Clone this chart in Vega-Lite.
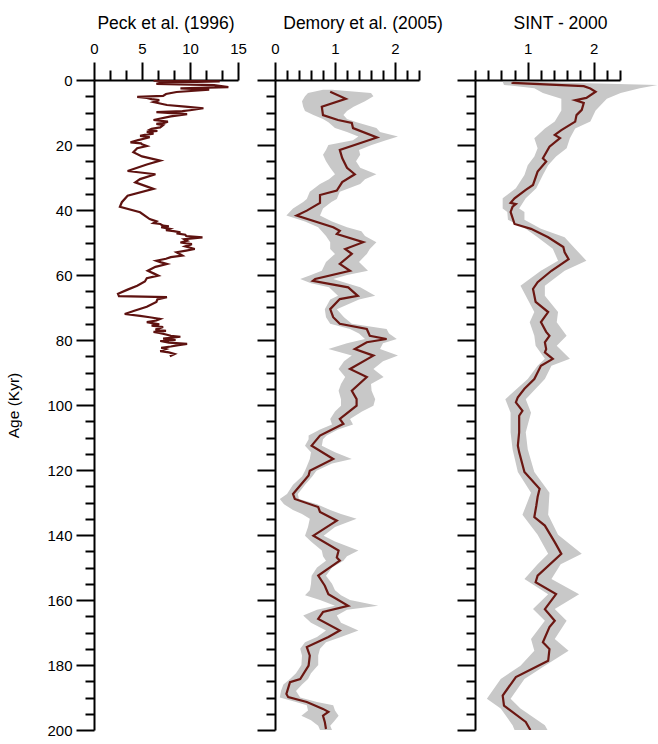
{
  "$schema": "https://vega.github.io/schema/vega-lite/v6.json",
  "padding": {"left": 6, "top": 14, "right": 5, "bottom": 5},
  "background": "white",
  "config": {
    "view": {"stroke": null},
    "font": "Liberation Sans",
    "axis": {"domainColor": "black", "domainWidth": 2, "tickColor": "black", "tickWidth": 2, "labelColor": "black", "labelFontSize": 15, "titleColor": "black", "grid": false, "labelFont": "Liberation Sans", "titleFont": "Liberation Sans", "labelFlush": false, "labelOverlap": false},
    "title": {"fontSize": 17.5, "fontWeight": "normal", "font": "Liberation Sans", "color": "black", "frame": "group", "anchor": "middle", "offset": 9}
  },
  "datasets": {
    "peck": [
      {"age":0.2,"v":6.2},{"age":0.4,"v":13.1},{"age":0.8,"v":7},{"age":1.2,"v":6.5},{"age":1.6,"v":12.5},{"age":2.2,"v":14.0},{"age":2.6,"v":9},{"age":3.0,"v":12.0},{"age":3.7,"v":8.6},{"age":4.3,"v":7.5},{"age":4.9,"v":7.2},{"age":5.2,"v":4.5},{"age":5.5,"v":5.5},{"age":5.9,"v":6.0},{"age":6.2,"v":6.8},{"age":6.8,"v":6.2},{"age":7.3,"v":7.0},{"age":7.7,"v":7.6},{"age":8.2,"v":9.5},{"age":8.7,"v":11.4},{"age":9.3,"v":10},{"age":9.6,"v":9.2},{"age":9.9,"v":6.5},{"age":10.5,"v":9.7},{"age":11.2,"v":8},{"age":12.3,"v":6.2},{"age":12.8,"v":7.7},{"age":13.2,"v":7.3},{"age":13.5,"v":6.5},{"age":13.9,"v":7.2},{"age":14.6,"v":6.9},{"age":15.0,"v":6.0},{"age":15.3,"v":5.8},{"age":15.7,"v":6.6},{"age":16.0,"v":5.5},{"age":16.5,"v":6.2},{"age":16.9,"v":5.3},{"age":17.2,"v":4.8},{"age":17.6,"v":5.8},{"age":18,"v":5.3},{"age":18.5,"v":4.6},{"age":19.2,"v":3.8},{"age":19.5,"v":4.9},{"age":19.8,"v":5.0},{"age":20.3,"v":5.5},{"age":21,"v":4.5},{"age":22.2,"v":4.1},{"age":23.5,"v":5.0},{"age":24.8,"v":6.9},{"age":26,"v":5.5},{"age":28,"v":3.5},{"age":29,"v":6.4},{"age":30.5,"v":4.8},{"age":31.5,"v":4.3},{"age":33.5,"v":6.2},{"age":35.6,"v":3.5},{"age":37.6,"v":2.9},{"age":39,"v":2.7},{"age":40.7,"v":4.8},{"age":42.8,"v":5.8},{"age":43.5,"v":6.5},{"age":44.0,"v":6.2},{"age":44.3,"v":6.9},{"age":44.8,"v":7.2},{"age":45,"v":7.8},{"age":45.3,"v":7.0},{"age":45.8,"v":7.9},{"age":46.2,"v":7.5},{"age":46.5,"v":8.3},{"age":46.9,"v":9.0},{"age":47.2,"v":8.6},{"age":47.6,"v":9.5},{"age":48.0,"v":9.6},{"age":48.4,"v":11.3},{"age":48.8,"v":10.0},{"age":49,"v":9.4},{"age":49.5,"v":9.7},{"age":50.0,"v":9.0},{"age":50.5,"v":10.2},{"age":51.2,"v":9.5},{"age":52,"v":10.5},{"age":52.5,"v":9.6},{"age":53,"v":8.6},{"age":54,"v":9.2},{"age":54.5,"v":8.0},{"age":55,"v":7.5},{"age":55.6,"v":6.5},{"age":56.1,"v":7.0},{"age":56.6,"v":7.6},{"age":57.5,"v":6.4},{"age":58.7,"v":5.6},{"age":59.5,"v":6.2},{"age":60.2,"v":6.7},{"age":61,"v":5.5},{"age":62,"v":5.3},{"age":63.3,"v":4.5},{"age":64.5,"v":3.5},{"age":65.8,"v":2.5},{"age":66.5,"v":2.6},{"age":66.8,"v":7.6},{"age":67.5,"v":6.6},{"age":68.3,"v":6.5},{"age":69.8,"v":5.5},{"age":71,"v":4.2},{"age":72,"v":3.2},{"age":72.6,"v":4.8},{"age":73.0,"v":5.8},{"age":73.5,"v":6.9},{"age":74.0,"v":6.5},{"age":74.5,"v":5.5},{"age":75.2,"v":6.8},{"age":75.6,"v":6.0},{"age":76,"v":7.2},{"age":76.8,"v":6.4},{"age":77.2,"v":7.5},{"age":77.5,"v":6.2},{"age":77.8,"v":6.8},{"age":78.3,"v":7.5},{"age":78.7,"v":8.0},{"age":79,"v":9.0},{"age":79.6,"v":7.2},{"age":80.0,"v":8.5},{"age":80.3,"v":6.9},{"age":80.8,"v":7.8},{"age":81.2,"v":9.7},{"age":81.6,"v":8.8},{"age":82,"v":8.0},{"age":82.4,"v":7.0},{"age":82.8,"v":7.5},{"age":83.4,"v":6.9},{"age":83.8,"v":7.8},{"age":84.3,"v":8.4},{"age":85,"v":7.9}
    ],
    "demoryLine": [
      {"age":3.6,"v":0.92},{"age":5.8,"v":1.18},{"age":8.2,"v":0.78},{"age":10.8,"v":0.8},{"age":12.3,"v":1.05},{"age":13.2,"v":1.28},{"age":14.8,"v":1.3},{"age":17.7,"v":1.7},{"age":21.5,"v":1.08},{"age":24.0,"v":1.12},{"age":27.0,"v":1.2},{"age":29.0,"v":1.33},{"age":31.4,"v":1.12},{"age":34.0,"v":1.03},{"age":35.4,"v":0.75},{"age":37.8,"v":0.75},{"age":40.2,"v":0.53},{"age":41.7,"v":0.36},{"age":45.3,"v":0.97},{"age":46.4,"v":1.08},{"age":47.4,"v":1.03},{"age":49.9,"v":1.47},{"age":52.0,"v":1.17},{"age":53.5,"v":1.28},{"age":56.6,"v":1.08},{"age":58.7,"v":1.25},{"age":61.2,"v":0.67},{"age":61.8,"v":0.63},{"age":63.8,"v":1.22},{"age":66.4,"v":1.38},{"age":67.4,"v":1.08},{"age":70.5,"v":0.92},{"age":73.0,"v":0.97},{"age":75.0,"v":1.08},{"age":76.6,"v":1.53},{"age":78.7,"v":1.58},{"age":79.7,"v":1.86},{"age":80.7,"v":1.53},{"age":82.8,"v":1.33},{"age":84.8,"v":1.64},{"age":88.9,"v":1.25},{"age":91.4,"v":1.53},{"age":95.6,"v":1.28},{"age":98.2,"v":1.36},{"age":100.2,"v":1.36},{"age":104.3,"v":1.08},{"age":105.8,"v":1.14},{"age":109.4,"v":0.75},{"age":112.5,"v":0.61},{"age":116.6,"v":0.97},{"age":120.2,"v":0.58},{"age":121.7,"v":0.56},{"age":127.4,"v":0.3},{"age":128.9,"v":0.33},{"age":131.4,"v":0.72},{"age":132.9,"v":0.75},{"age":135.6,"v":1.03},{"age":140.2,"v":0.64},{"age":144.8,"v":1.06},{"age":146.9,"v":1.03},{"age":147.9,"v":1.08},{"age":152.5,"v":0.72},{"age":155.6,"v":0.83},{"age":158.2,"v":0.89},{"age":161.8,"v":1.22},{"age":163.7,"v":0.8},{"age":165.8,"v":0.72},{"age":169.4,"v":1.08},{"age":171.4,"v":0.89},{"age":174.5,"v":0.53},{"age":177.1,"v":0.58},{"age":180.2,"v":0.56},{"age":184.3,"v":0.42},{"age":185.3,"v":0.25},{"age":188.9,"v":0.19},{"age":189.9,"v":0.22},{"age":191.4,"v":0.53},{"age":193.5,"v":0.8},{"age":194.4,"v":0.89},{"age":195.6,"v":0.8},{"age":197.5,"v":0.83},{"age":199.7,"v":0.85}
    ],
    "demoryBand": [
      {"age":3.0,"lo":0.8,"hi":0.95},{"age":4.0,"lo":0.55,"hi":1.6},{"age":5.0,"lo":0.5,"hi":1.64},{"age":6.5,"lo":0.45,"hi":1.5},{"age":8.2,"lo":0.47,"hi":1.31},{"age":9.5,"lo":0.5,"hi":1.2},{"age":10.8,"lo":0.64,"hi":1.14},{"age":12.0,"lo":0.8,"hi":1.2},{"age":13.0,"lo":0.89,"hi":1.36},{"age":14.8,"lo":1.0,"hi":1.69},{"age":16.0,"lo":1.2,"hi":1.75},{"age":17.4,"lo":1.39,"hi":2.05},{"age":18.5,"lo":1.3,"hi":1.85},{"age":20.0,"lo":0.89,"hi":1.61},{"age":21.5,"lo":0.85,"hi":1.4},{"age":23.0,"lo":0.8,"hi":1.42},{"age":25.0,"lo":0.85,"hi":1.35},{"age":27.0,"lo":0.92,"hi":1.42},{"age":29.0,"lo":1.0,"hi":1.69},{"age":30.5,"lo":0.9,"hi":1.5},{"age":32.0,"lo":0.75,"hi":1.42},{"age":34.4,"lo":0.58,"hi":1.08},{"age":36.6,"lo":0.53,"hi":1.03},{"age":37.5,"lo":0.47,"hi":0.94},{"age":39.5,"lo":0.3,"hi":0.8},{"age":41.7,"lo":0.19,"hi":0.75},{"age":43.5,"lo":0.5,"hi":0.95},{"age":45.3,"lo":0.72,"hi":1.2},{"age":46.5,"lo":0.78,"hi":1.44},{"age":48.0,"lo":0.85,"hi":1.5},{"age":49.9,"lo":0.92,"hi":1.69},{"age":52.0,"lo":0.92,"hi":1.58},{"age":53.5,"lo":1.0,"hi":1.53},{"age":56.0,"lo":0.85,"hi":1.4},{"age":58.7,"lo":0.78,"hi":1.55},{"age":60.0,"lo":0.6,"hi":1.2},{"age":61.2,"lo":0.42,"hi":0.97},{"age":62.5,"lo":0.6,"hi":1.2},{"age":63.8,"lo":0.9,"hi":1.42},{"age":66.4,"lo":1.05,"hi":1.67},{"age":67.5,"lo":0.92,"hi":1.4},{"age":70.5,"lo":0.83,"hi":1.03},{"age":73.0,"lo":0.85,"hi":1.15},{"age":75.0,"lo":0.92,"hi":1.28},{"age":76.6,"lo":1.25,"hi":1.86},{"age":78.0,"lo":1.4,"hi":1.9},{"age":79.7,"lo":1.5,"hi":2.03},{"age":81.0,"lo":1.2,"hi":1.8},{"age":82.8,"lo":0.89,"hi":1.75},{"age":84.8,"lo":1.28,"hi":2.05},{"age":86.5,"lo":1.15,"hi":1.8},{"age":88.9,"lo":1.06,"hi":1.64},{"age":91.4,"lo":1.17,"hi":1.81},{"age":93.5,"lo":1.1,"hi":1.6},{"age":95.6,"lo":1.06,"hi":1.61},{"age":98.2,"lo":1.1,"hi":1.67},{"age":100.2,"lo":1.1,"hi":1.64},{"age":102.0,"lo":1.0,"hi":1.45},{"age":104.3,"lo":0.92,"hi":1.25},{"age":106.0,"lo":0.95,"hi":1.3},{"age":107.5,"lo":0.75,"hi":1.05},{"age":109.4,"lo":0.56,"hi":0.86},{"age":110.5,"lo":0.56,"hi":0.8},{"age":112.5,"lo":0.5,"hi":0.78},{"age":114.5,"lo":0.6,"hi":1.0},{"age":116.6,"lo":0.58,"hi":1.28},{"age":118.0,"lo":0.55,"hi":0.95},{"age":120.2,"lo":0.5,"hi":0.69},{"age":122.0,"lo":0.45,"hi":0.62},{"age":124.5,"lo":0.3,"hi":0.5},{"age":127.4,"lo":0.2,"hi":0.38},{"age":128.9,"lo":0.08,"hi":0.4},{"age":130.5,"lo":0.15,"hi":0.7},{"age":132.3,"lo":0.3,"hi":0.92},{"age":133.5,"lo":0.45,"hi":1.1},{"age":135.0,"lo":0.58,"hi":1.36},{"age":137.5,"lo":0.55,"hi":1.0},{"age":140.2,"lo":0.5,"hi":0.81},{"age":142.0,"lo":0.6,"hi":1.0},{"age":144.8,"lo":0.78,"hi":1.39},{"age":146.5,"lo":0.8,"hi":1.2},{"age":147.9,"lo":0.85,"hi":1.14},{"age":150.0,"lo":0.7,"hi":0.95},{"age":152.5,"lo":0.61,"hi":0.85},{"age":155.0,"lo":0.6,"hi":0.95},{"age":157.0,"lo":0.58,"hi":1.0},{"age":158.5,"lo":0.5,"hi":1.1},{"age":160.0,"lo":0.75,"hi":1.25},{"age":161.8,"lo":1.0,"hi":1.72},{"age":163.0,"lo":0.7,"hi":1.2},{"age":164.8,"lo":0.47,"hi":1.03},{"age":167.0,"lo":0.6,"hi":1.1},{"age":169.4,"lo":0.85,"hi":1.39},{"age":171.4,"lo":0.7,"hi":1.1},{"age":173.0,"lo":0.5,"hi":0.85},{"age":175.0,"lo":0.42,"hi":0.75},{"age":177.1,"lo":0.45,"hi":0.72},{"age":180.0,"lo":0.44,"hi":0.72},{"age":182.5,"lo":0.35,"hi":0.6},{"age":184.3,"lo":0.25,"hi":0.55},{"age":186.0,"lo":0.14,"hi":0.45},{"age":188.0,"lo":0.1,"hi":0.35},{"age":190.0,"lo":0.08,"hi":0.42},{"age":191.4,"lo":0.35,"hi":0.7},{"age":192.4,"lo":0.53,"hi":0.97},{"age":194.0,"lo":0.55,"hi":1.0},{"age":195.6,"lo":0.44,"hi":1.06},{"age":197.0,"lo":0.6,"hi":1.0},{"age":198.7,"lo":0.72,"hi":0.92},{"age":200.0,"lo":0.75,"hi":0.95}
    ],
    "sintLine": [
      {"age":0.7,"v":0.77},{"age":0.9,"v":0.77},{"age":1.9,"v":1.85},{"age":2.6,"v":1.95},{"age":3.6,"v":2.03},{"age":5.5,"v":1.89},{"age":6.2,"v":1.72},{"age":7.1,"v":1.85},{"age":9.2,"v":1.82},{"age":10.8,"v":1.74},{"age":12.8,"v":1.72},{"age":15.4,"v":1.51},{"age":16.9,"v":1.41},{"age":17.9,"v":1.49},{"age":20.5,"v":1.33},{"age":24.1,"v":1.23},{"age":25.1,"v":1.28},{"age":28.2,"v":1.15},{"age":32.3,"v":1.08},{"age":33.8,"v":0.97},{"age":36.4,"v":0.8},{"age":37.8,"v":0.74},{"age":38.2,"v":0.82},{"age":39.0,"v":0.77},{"age":40.6,"v":0.74},{"age":44.3,"v":0.8},{"age":45.8,"v":1.05},{"age":48.4,"v":1.31},{"age":51.4,"v":1.54},{"age":53.0,"v":1.56},{"age":55.1,"v":1.62},{"age":58.7,"v":1.36},{"age":62.2,"v":1.15},{"age":64.3,"v":1.08},{"age":68.3,"v":1.12},{"age":71.4,"v":1.31},{"age":74.5,"v":1.2},{"age":77.5,"v":1.28},{"age":78.7,"v":1.33},{"age":80.7,"v":1.26},{"age":82.8,"v":1.28},{"age":83.8,"v":1.26},{"age":85.8,"v":1.38},{"age":87.9,"v":1.2},{"age":92.0,"v":1.1},{"age":95.0,"v":0.95},{"age":97.6,"v":0.85},{"age":99.2,"v":0.82},{"age":101.8,"v":0.92},{"age":103.3,"v":0.87},{"age":108.4,"v":0.87},{"age":112.5,"v":0.85},{"age":114.5,"v":0.87},{"age":120.6,"v":0.95},{"age":125.8,"v":1.18},{"age":128.3,"v":1.15},{"age":131.0,"v":1.13},{"age":134.5,"v":1.1},{"age":137.1,"v":1.26},{"age":142.2,"v":1.41},{"age":145.8,"v":1.51},{"age":152.5,"v":1.15},{"age":154.5,"v":1.12},{"age":158.2,"v":1.43},{"age":162.8,"v":1.26},{"age":166.4,"v":1.41},{"age":168.3,"v":1.33},{"age":173.0,"v":1.23},{"age":175.1,"v":1.33},{"age":178.7,"v":1.31},{"age":183.7,"v":0.82},{"age":189.4,"v":0.62},{"age":192.5,"v":0.64},{"age":197.5,"v":0.97},{"age":200.0,"v":1.04}
    ],
    "sintBand": [
      {"age":0.5,"lo":0.62,"hi":1.0},{"age":1.5,"lo":0.64,"hi":2.97},{"age":2.5,"lo":1.1,"hi":2.7},{"age":4.0,"lo":1.23,"hi":2.41},{"age":5.8,"lo":1.51,"hi":2.2},{"age":9.4,"lo":1.51,"hi":2.03},{"age":12.8,"lo":1.41,"hi":1.95},{"age":14.9,"lo":1.26,"hi":1.72},{"age":17.9,"lo":1.1,"hi":1.64},{"age":21.0,"lo":1.15,"hi":1.59},{"age":23.5,"lo":1.1,"hi":1.43},{"age":26.2,"lo":1.0,"hi":1.31},{"age":29.2,"lo":0.95,"hi":1.23},{"age":33.3,"lo":0.82,"hi":1.13},{"age":36.4,"lo":0.62,"hi":0.97},{"age":39.5,"lo":0.62,"hi":0.87},{"age":40.6,"lo":0.69,"hi":0.95},{"age":43.0,"lo":0.7,"hi":0.95},{"age":45.8,"lo":0.97,"hi":1.2},{"age":48.4,"lo":1.15,"hi":1.56},{"age":51.9,"lo":1.38,"hi":1.72},{"age":55.6,"lo":1.46,"hi":1.89},{"age":58.7,"lo":1.2,"hi":1.56},{"age":63.3,"lo":0.89,"hi":1.26},{"age":66.4,"lo":0.97,"hi":1.26},{"age":71.4,"lo":1.1,"hi":1.46},{"age":74.5,"lo":1.03,"hi":1.44},{"age":78.7,"lo":1.1,"hi":1.59},{"age":81.8,"lo":1.12,"hi":1.44},{"age":85.8,"lo":1.26,"hi":1.64},{"age":87.9,"lo":1.15,"hi":1.36},{"age":92.0,"lo":1.0,"hi":1.26},{"age":98.2,"lo":0.66,"hi":0.97},{"age":102.4,"lo":0.74,"hi":1.05},{"age":108.4,"lo":0.74,"hi":0.97},{"age":113.6,"lo":0.77,"hi":1.0},{"age":120.6,"lo":0.85,"hi":1.1},{"age":127.0,"lo":1.05,"hi":1.33},{"age":133.8,"lo":0.92,"hi":1.31},{"age":139.9,"lo":1.15,"hi":1.46},{"age":145.8,"lo":1.31,"hi":1.82},{"age":149.0,"lo":1.15,"hi":1.5},{"age":153.5,"lo":0.95,"hi":1.36},{"age":158.2,"lo":1.31,"hi":1.78},{"age":162.8,"lo":1.08,"hi":1.41},{"age":166.4,"lo":1.26,"hi":1.59},{"age":172.0,"lo":1.05,"hi":1.41},{"age":175.6,"lo":1.1,"hi":1.62},{"age":180.2,"lo":0.89,"hi":1.26},{"age":184.3,"lo":0.59,"hi":0.95},{"age":190.4,"lo":0.38,"hi":0.74},{"age":193.4,"lo":0.59,"hi":0.89},{"age":198.5,"lo":0.77,"hi":1.26},{"age":200.0,"lo":0.8,"hi":1.3}
    ]
  },
  "spacing": 13,
  "hconcat": [
    {
      "spacing": 9,
      "hconcat": [
        {
          "width": 144, "height": 650,
          "title": {"text": "Peck et al. (1996)"},
          "data": {"name": "peck"},
          "mark": {"type": "line", "color": "#5e1210", "strokeWidth": 2.2, "clip": true},
          "encoding": {
            "x": {"field": "v", "type": "quantitative", "scale": {"domain": [0, 15], "nice": false, "zero": false},
              "axis": {"orient": "top", "title": null, "values": [0, 1.6667, 3.3333, 5, 6.6667, 8.3333, 10, 11.6667, 13.3333, 15], "tickSize": {"condition": {"test": "abs(datum.value % 5) < 0.001", "value": 18}, "value": 10}, "labelExpr": "abs(datum.value % 5) < 0.001 ? format(datum.value, '.0f') : ''", "labelPadding": 6}},
            "y": {"field": "age", "type": "quantitative", "scale": {"domain": [0, 200], "reverse": true, "nice": false, "zero": false},
              "axis": {"orient": "left", "title": "Age (Kyr)", "titleFontSize": 15.5, "titleFontWeight": "normal", "titlePadding": 25, "values": [0,5,10,15,20,25,30,35,40,45,50,55,60,65,70,75,80,85,90,95,100,105,110,115,120,125,130,135,140,145,150,155,160,165,170,175,180,185,190,195,200], "tickSize": {"condition": {"test": "datum.value % 20 === 0", "value": 18}, "value": 9}, "labelExpr": "datum.value % 20 === 0 ? datum.label : ''", "labelPadding": 4}},
            "order": {"field": "age"}
          }
        },
        {
          "width": 144, "height": 650,
          "title": {"text": "Demory et al. (2005)", "dx": 16},
          "layer": [
            {
              "data": {"name": "demoryBand"},
              "mark": {"type": "area", "orient": "horizontal", "color": "#c8c8c8", "opacity": 1},
              "encoding": {
                "x": {"field": "lo", "type": "quantitative", "scale": {"domain": [0, 2.4], "nice": false, "zero": false},
                  "axis": {"orient": "top", "title": null, "values": [0,0.2,0.4,0.6,0.8,1,1.2,1.4,1.6,1.8,2,2.2,2.4], "tickSize": {"condition": {"test": "abs(datum.value - round(datum.value)) < 0.001", "value": 18}, "value": 10}, "labelExpr": "abs(datum.value - round(datum.value)) < 0.001 ? format(datum.value, '.0f') : ''", "labelPadding": 6}},
                "x2": {"field": "hi"},
                "y": {"field": "age", "type": "quantitative", "scale": {"domain": [0, 200], "reverse": true, "nice": false, "zero": false},
                  "axis": {"orient": "left", "title": null, "labels": false, "values": [0,5,10,15,20,25,30,35,40,45,50,55,60,65,70,75,80,85,90,95,100,105,110,115,120,125,130,135,140,145,150,155,160,165,170,175,180,185,190,195,200], "tickSize": {"condition": {"test": "datum.value % 20 === 0", "value": 18}, "value": 9}}}
              }
            },
            {
              "data": {"name": "demoryLine"},
              "mark": {"type": "line", "color": "#6b1712", "strokeWidth": 2.2, "clip": true},
              "encoding": {
                "x": {"field": "v", "type": "quantitative",
                  "axis": {"orient": "top", "title": null, "values": [0,0.2,0.4,0.6,0.8,1,1.2,1.4,1.6,1.8,2,2.2,2.4], "tickSize": {"condition": {"test": "abs(datum.value - round(datum.value)) < 0.001", "value": 18}, "value": 10}, "labelExpr": "abs(datum.value - round(datum.value)) < 0.001 ? format(datum.value, '.0f') : ''", "labelPadding": 6}},
                "y": {"field": "age", "type": "quantitative",
                  "axis": {"orient": "left", "title": null, "labels": false, "values": [0,5,10,15,20,25,30,35,40,45,50,55,60,65,70,75,80,85,90,95,100,105,110,115,120,125,130,135,140,145,150,155,160,165,170,175,180,185,190,195,200], "tickSize": {"condition": {"test": "datum.value % 20 === 0", "value": 18}, "value": 9}}},
                "order": {"field": "age"}
              }
            }
          ]
        }
      ]
    },
    {
      "width": 145, "height": 650,
      "title": {"text": "SINT - 2000", "dx": 13},
      "layer": [
        {
          "data": {"name": "sintBand"},
          "mark": {"type": "area", "orient": "horizontal", "color": "#c8c8c8", "opacity": 1},
          "encoding": {
            "x": {"field": "lo", "type": "quantitative", "scale": {"domain": [0.2, 2.4], "nice": false, "zero": false},
              "axis": {"orient": "top", "title": null, "values": [0.2,0.4,0.6,0.8,1,1.2,1.4,1.6,1.8,2,2.2,2.4], "tickSize": {"condition": {"test": "abs(datum.value - round(datum.value)) < 0.001", "value": 18}, "value": 10}, "labelExpr": "abs(datum.value - round(datum.value)) < 0.001 ? format(datum.value, '.0f') : ''", "labelPadding": 6}},
            "x2": {"field": "hi"},
            "y": {"field": "age", "type": "quantitative", "scale": {"domain": [0, 200], "reverse": true, "nice": false, "zero": false},
              "axis": {"orient": "left", "title": null, "labels": false, "values": [0,5,10,15,20,25,30,35,40,45,50,55,60,65,70,75,80,85,90,95,100,105,110,115,120,125,130,135,140,145,150,155,160,165,170,175,180,185,190,195,200], "tickSize": {"condition": {"test": "datum.value % 20 === 0", "value": 18}, "value": 9}}}
          }
        },
        {
          "data": {"name": "sintLine"},
          "mark": {"type": "line", "color": "#6b1712", "strokeWidth": 2.2, "clip": true},
          "encoding": {
            "x": {"field": "v", "type": "quantitative",
              "axis": {"orient": "top", "title": null, "values": [0.2,0.4,0.6,0.8,1,1.2,1.4,1.6,1.8,2,2.2,2.4], "tickSize": {"condition": {"test": "abs(datum.value - round(datum.value)) < 0.001", "value": 18}, "value": 10}, "labelExpr": "abs(datum.value - round(datum.value)) < 0.001 ? format(datum.value, '.0f') : ''", "labelPadding": 6}},
            "y": {"field": "age", "type": "quantitative",
              "axis": {"orient": "left", "title": null, "labels": false, "values": [0,5,10,15,20,25,30,35,40,45,50,55,60,65,70,75,80,85,90,95,100,105,110,115,120,125,130,135,140,145,150,155,160,165,170,175,180,185,190,195,200], "tickSize": {"condition": {"test": "datum.value % 20 === 0", "value": 18}, "value": 9}}},
            "order": {"field": "age"}
          }
        }
      ]
    }
  ]
}
